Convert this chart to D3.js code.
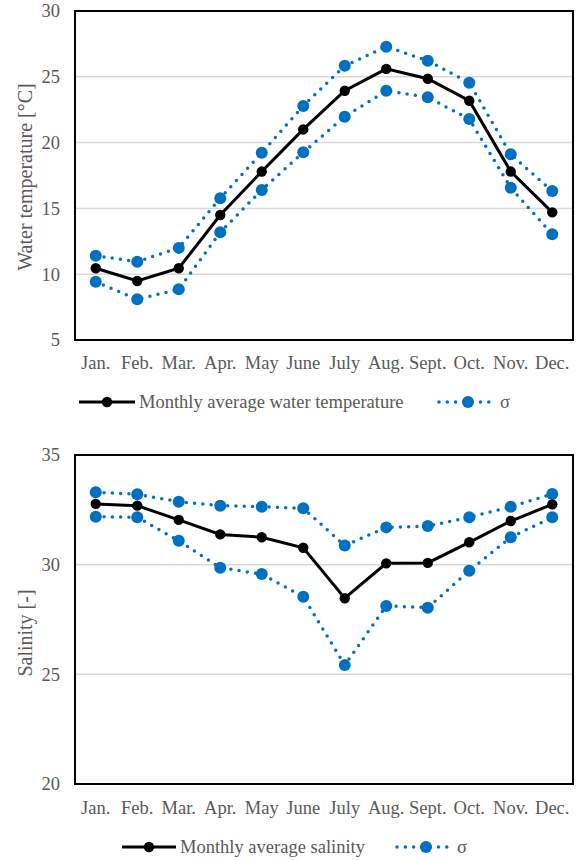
<!DOCTYPE html>
<html><head><meta charset="utf-8">
<script src="https://cdn.jsdelivr.net/npm/d3@7"></script>
<style>body{margin:0;background:#fff}svg{display:block}
svg text{font-family:"Liberation Serif","Times New Roman",serif;}</style>
</head><body>
<script>
const months = ["Jan.","Feb.","Mar.","Apr.","May","June","July","Aug.","Sept.","Oct.","Nov.","Dec."];
const tempMean  = [10.45, 9.48, 10.45, 14.5, 17.8, 21.0, 23.94, 25.6, 24.85, 23.18, 17.8, 14.7];
const tempUpper = [11.4, 10.95, 12.0, 15.77, 19.23, 22.78, 25.84, 27.29, 26.22, 24.55, 19.11, 16.32];
const tempLower = [9.43, 8.09, 8.85, 13.18, 16.4, 19.26, 21.97, 23.94, 23.44, 21.79, 16.57, 13.03];
const tempTicks = [5, 10, 15, 20, 25, 30];
const salMean  = [32.77, 32.69, 32.04, 31.38, 31.25, 30.77, 28.47, 30.06, 30.08, 31.02, 31.99, 32.75];
const salUpper = [33.3, 33.21, 32.87, 32.69, 32.64, 32.57, 30.87, 31.7, 31.76, 32.16, 32.64, 33.22];
const salLower = [32.19, 32.16, 31.09, 29.86, 29.57, 28.54, 25.42, 28.12, 28.04, 29.72, 31.25, 32.16];
const salTicks = [20, 25, 30, 35];

const W = 579, H = 860;
const svg = d3.select("body").append("svg").attr("width", W).attr("height", H);
const gray = "#595959", blue = "#0070C0";
const FS = 18.5;

function txt(sel, size) {
  return sel.attr("font-family", null).style("font-size", size + "px").attr("fill", gray);
}

function chart(o) {
  const x = d3.scaleBand().domain(months).range([75, 573]);
  const y = d3.scaleLinear().domain(o.domain).range([o.bottom, o.top]);
  const g = svg.append("g");
  g.selectAll("line.grid").data(o.ticks.filter(t => t !== o.domain[0] && t !== o.domain[1]))
    .join("line").attr("x1", 75).attr("x2", 573)
    .attr("y1", d => y(d)).attr("y2", d => y(d))
    .attr("stroke", "#d9d9d9").attr("stroke-width", 1.5);
  g.append("rect").attr("x", 75).attr("y", o.top).attr("width", 498).attr("height", o.bottom - o.top)
    .attr("fill", "none").attr("stroke", "#000").attr("stroke-width", 2);
  const ya = d3.axisLeft(y).tickValues(o.ticks).tickSize(0).tickPadding(15);
  const yg = g.append("g").attr("transform", "translate(75,0)").call(ya).attr("font-family", null).attr("font-size", null);
  yg.select(".domain").remove();
  txt(yg.selectAll("text"), FS);
  const xa = d3.axisBottom(x).tickSize(0).tickPadding(0);
  const xg = g.append("g").attr("transform", `translate(0,${o.xLabelY})`).call(xa).attr("font-family", null).attr("font-size", null);
  xg.select(".domain").remove();
  txt(xg.selectAll("text"), FS).attr("dy", "0.35em");
  txt(g.append("text").attr("transform", `translate(25,${o.titleY}) rotate(-90)`)
    .attr("text-anchor", "middle").attr("dominant-baseline", "central"), 20).text(o.title);
  const cx = (d, i) => x(months[i]) + x.bandwidth() / 2;
  const line = d3.line().x(cx).y(d => y(d));
  [o.upper, o.lower].forEach(s => {
    g.append("path").attr("d", line(s)).attr("fill", "none").attr("stroke", blue)
      .attr("stroke-width", 3.5).attr("stroke-linecap", "round").attr("stroke-dasharray", "0,8.3");
  });
  [o.upper, o.lower].forEach(s => {
    g.selectAll(null).data(s).join("circle").attr("cx", cx).attr("cy", d => y(d)).attr("r", 6).attr("fill", blue);
  });
  g.append("path").attr("d", line(o.mean)).attr("fill", "none").attr("stroke", "#000").attr("stroke-width", 3);
  g.selectAll(null).data(o.mean).join("circle").attr("cx", cx).attr("cy", d => y(d)).attr("r", 5.2).attr("fill", "#000");
  const ly = o.legendY, L = o.legend;
  g.append("line").attr("x1", L[0]).attr("x2", L[1]).attr("y1", ly).attr("y2", ly).attr("stroke", "#000").attr("stroke-width", 3);
  g.append("circle").attr("cx", (L[0] + L[1]) / 2).attr("cy", ly).attr("r", 5.2).attr("fill", "#000");
  txt(g.append("text").attr("x", L[1] + 4).attr("y", ly).attr("dominant-baseline", "central"), FS).text(o.meanLabel);
  g.append("line").attr("x1", L[2]).attr("x2", L[3]).attr("y1", ly).attr("y2", ly).attr("stroke", blue)
    .attr("stroke-width", 3.5).attr("stroke-linecap", "round").attr("stroke-dasharray", "0,8.3");
  g.append("circle").attr("cx", L[2] + 29).attr("cy", ly).attr("r", 6).attr("fill", blue);
  txt(g.append("text").attr("x", L[3] + 10).attr("y", ly).attr("dominant-baseline", "central"), FS).text("σ");
}

chart({domain: [5, 30], ticks: tempTicks, top: 11, bottom: 340, xLabelY: 363, titleY: 177,
  title: "Water temperature [°C]", mean: tempMean, upper: tempUpper, lower: tempLower,
  legendY: 402, legend: [79, 135, 439, 490], meanLabel: "Monthly average water temperature"});
chart({domain: [20, 35], ticks: salTicks, top: 455, bottom: 784, xLabelY: 808, titleY: 633,
  title: "Salinity [-]", mean: salMean, upper: salUpper, lower: salLower,
  legendY: 847, legend: [122, 176, 397, 447], meanLabel: "Monthly average salinity"});
</script>
</body></html>
